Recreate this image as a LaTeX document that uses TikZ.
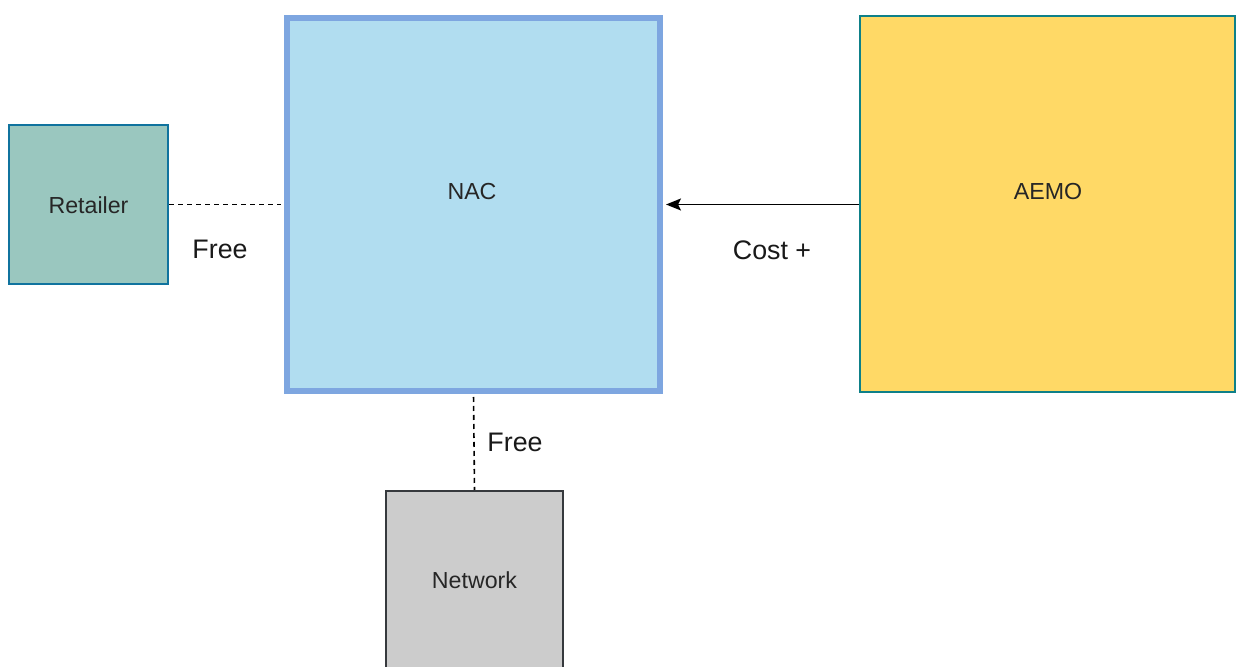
\documentclass[tikz,border=0pt]{standalone}
\usepackage{fontspec}
\setmainfont{Liberation Sans}
\usetikzlibrary{arrows.meta}
\definecolor{retfill}{HTML}{9AC7BF}
\definecolor{retdraw}{HTML}{10739E}
\definecolor{nacfill}{HTML}{B1DDF0}
\definecolor{nacdraw}{HTML}{7EA6E0}
\definecolor{aemofill}{HTML}{FFD966}
\definecolor{aemodraw}{HTML}{0E8088}
\definecolor{netfill}{HTML}{CCCCCC}
\definecolor{netdraw}{HTML}{36393D}
\tikzset{
  box/.style={draw, rectangle, inner sep=0pt, line width=1pt},
  boxtext/.style={inner sep=0pt, font=\fontsize{11.6}{14}\selectfont, text=black!85},
  edgelabel/.style={inner sep=0pt, font=\fontsize{13.4}{16}\selectfont, text=black!90},
  dashline/.style={draw=black, line width=0.8pt, dash pattern=on 2.5pt off 2pt},
}
\begin{document}
\begin{tikzpicture}[x=0.5pt,y=-0.5pt]
\useasboundingbox (0,0) rectangle (1236,667);
\clip (0,0) rectangle (1236,667);
\fill[white] (0,0) rectangle (1236,667);
\node[box, fill=retfill, draw=retdraw, minimum width=79.5pt, minimum height=79.5pt] (ret) at (88.5,204.5) {};
\node[boxtext] (rettext) at (88.5,205) {Retailer};
\node[box, fill=nacfill, draw=nacdraw, line width=3pt, minimum width=186.5pt, minimum height=186.5pt] (nac) at (473.5,204.5) {};
\node[boxtext] (nactext) at (472,192) {NAC};
\node[box, fill=aemofill, draw=aemodraw, minimum width=187.5pt, minimum height=188pt] (aemo) at (1047.5,204.5) {};
\node[boxtext] (aemotext) at (1048,192) {AEMO};
\node[box, fill=netfill, draw=netdraw, minimum width=88.5pt, minimum height=88.5pt] (net) at (474.5,579.5) {};
\node[boxtext] (nettext) at (474.5,580) {Network};
\draw[dashline, shorten >=1.5pt] (ret.east) -- (nac.west);
\draw[line width=0.8pt, -{Stealth[length=7.5pt,width=6pt,inset=1.5pt]}, shorten >=1.5pt] (aemo.west) -- (nac.east);
\draw[dashline, shorten <=1.5pt] (nac.south) -- (net.north);
\node[edgelabel] (free1) at (220,249) {Free};
\node[edgelabel] (cost) at (772,250) {Cost +};
\node[edgelabel] (free2) at (515,442) {Free};
\end{tikzpicture}
\end{document}
